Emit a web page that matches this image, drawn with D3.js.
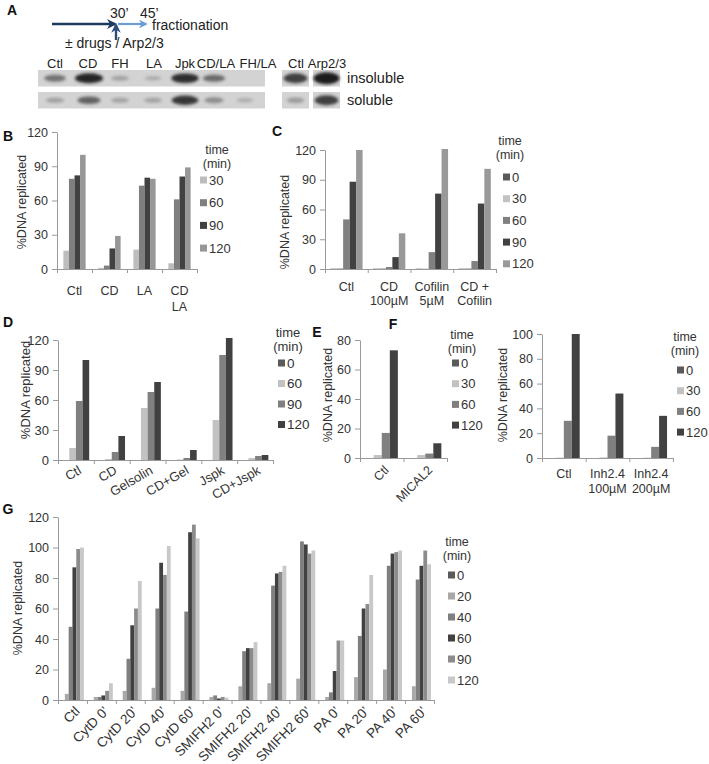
<!DOCTYPE html>
<html>
<head>
<meta charset="utf-8">
<script src="https://cdn.jsdelivr.net/npm/d3@7"></script>
<style>
  body { margin: 0; background: #fff; }
  text { font-family: "Liberation Sans", Arial, sans-serif; fill: #333; }
</style>
</head>
<body>
<div id="fig"></div>
<script>
// ---- panel A : blot lanes (band intensity 0..1) ----
const laneLabels = ["Ctl", "CD", "FH", "LA", "Jpk", "CD/LA", "FH/LA"];
const insolubleBands = [0.55, 1.0, 0.28, 0.22, 0.95, 0.6, 0.0];
const solubleBands = [0.3, 0.65, 0.28, 0.28, 0.9, 0.4, 0.22];
const arpLabels = ["Ctl", "Arp2/3"];
const arpInsoluble = [0.8, 1.0];
const arpSoluble = [0.3, 0.8];

// ---- panel B ----
const bCats = ["Ctl", "CD", "LA", "CD\nLA"];
const bTimes = ["30", "60", "90", "120"];
const bValues = [[16, 79, 82, 100], [1, 3, 18, 29], [17, 73, 80, 79], [5, 61, 81, 89]];

// ---- panel C ----
const cCats = ["Ctl", "CD\n100µM", "Cofilin\n5µM", "CD +\nCofilin"];
const cTimes = ["0", "30", "60", "90", "120"];
const cValues = [[0.3, 1, 50, 88, 120], [0.3, 1, 2, 12, 36], [0.3, 0.5, 17, 76, 121], [0.3, 1, 8, 66, 101]];

// ---- panel D ----
const dCats = ["Ctl", "CD", "Gelsolin", "CD+Gel", "Jspk", "CD+Jspk"];
const dTimes = ["0", "60", "90", "120"];
const dValues = [[0, 12, 59, 100], [0, 1, 8, 24], [0, 52, 68, 78], [0, 0.5, 2, 10], [0, 40, 105, 122], [0, 2, 4, 5]];

// ---- panel E ----
const eCats = ["Ctl", "MICAL2"];
const eTimes = ["0", "30", "60", "120"];
const eValues = [[0, 2, 17, 73], [0, 2, 3, 10]];

// ---- panel F ----
const fCats = ["Ctl", "Inh2.4\n100µM", "Inh2.4\n200µM"];
const fTimes = ["0", "30", "60", "120"];
const fValues = [[0, 0.3, 30, 100], [0, 0.5, 18, 52], [0, 0.3, 9, 34]];

// ---- panel G ----
const gCats = ["Ctl", "CytD 0’", "CytD 20’", "CytD 40’", "CytD 60’", "SMIFH2 0’", "SMIFH2 20’",
  "SMIFH2 40’", "SMIFH2 60’", "PA 0’", "PA 20’", "PA 40’", "PA 60’"];
const gTimes = ["0", "20", "40", "60", "90", "120"];
const gValues = [
  [0, 4, 48, 87, 99, 100],
  [0, 2, 2, 3, 6, 11],
  [0, 6, 27, 49, 60, 78],
  [0, 8, 60, 90, 82, 101],
  [0, 6, 58, 110, 115, 106],
  [0, 2, 3, 1, 2, 1.5],
  [0, 9, 32, 34, 34, 38],
  [0, 11, 75, 83, 84, 88],
  [0, 14, 104, 102, 96, 98],
  [0, 2, 5, 19, 39, 39],
  [0, 15, 42, 60, 63, 82],
  [0, 20, 88, 96, 97, 98],
  [0, 9, 79, 88, 98, 89]
];

const width = 709;
const height = 764;

const svg = d3.select("#fig").append("svg")
  .attr("width", width)
  .attr("height", height);

const defs = svg.append("defs");
defs.append("filter").attr("id", "blur")
  .attr("x", "-50%").attr("y", "-100%").attr("width", "200%").attr("height", "300%")
  .append("feGaussianBlur").attr("stdDeviation", 1.6);

function arrowHead(id, color) {
  defs.append("marker")
    .attr("id", id)
    .attr("viewBox", "0 0 10 10")
    .attr("refX", 8).attr("refY", 5)
    .attr("markerWidth", 4).attr("markerHeight", 4)
    .attr("orient", "auto")
    .append("path")
    .attr("d", "M0,0 L10,5 L0,10 L3,5 Z")
    .attr("fill", color);
}
arrowHead("headDark", "#1d3a60");
arrowHead("headLight", "#6c9ed6");
arrowHead("headUp", "#2b4d7e");

function panelLetter(t, x, y) {
  svg.append("text").attr("x", x).attr("y", y)
    .attr("dominant-baseline", "central").attr("text-anchor", "middle")
    .style("font-weight", "bold").style("font-size", "14px").style("fill", "#111")
    .text(t);
}

// ================= panel A =================
panelLetter("A", 12, 10);

svg.append("line").attr("x1", 52).attr("y1", 24).attr("x2", 115).attr("y2", 24)
  .attr("stroke", "#1d3a60").attr("stroke-width", 2.5).attr("marker-end", "url(#headDark)");
svg.append("line").attr("x1", 118).attr("y1", 24).attr("x2", 146).attr("y2", 24)
  .attr("stroke", "#6c9ed6").attr("stroke-width", 2.2).attr("marker-end", "url(#headLight)");
svg.append("line").attr("x1", 116).attr("y1", 40).attr("x2", 116).attr("y2", 25)
  .attr("stroke", "#2b4d7e").attr("stroke-width", 2.4).attr("marker-end", "url(#headUp)");

const aText = [
  { t: "30’", x: 110, y: 13 },
  { t: "45’", x: 140, y: 13 },
  { t: "fractionation", x: 152, y: 25 },
  { t: "± drugs / Arp2/3", x: 65, y: 43 }
];
svg.append("g").selectAll("text").data(aText).join("text")
  .attr("x", d => d.x).attr("y", d => d.y)
  .attr("dominant-baseline", "central")
  .style("font-size", "14px").style("fill", "#222")
  .text(d => d.t);

// lane centres of the main blot (lanes are not evenly spaced on the gel)
const laneX = d3.scaleOrdinal(laneLabels, [55, 88, 120, 154, 185, 216, 258]);
const laneBandX = d3.scaleOrdinal(laneLabels, [55, 89, 120, 153, 185, 214, 245]);

function blot(labels, rows, x0, x1, rowY, rowH) {
  const g = svg.append("g");
  g.selectAll("text.lane").data(labels).join("text")
    .attr("class", "lane")
    .attr("x", d => laneX(d)).attr("y", 63)
    .attr("text-anchor", "middle").attr("dominant-baseline", "central")
    .style("font-size", "13px").style("fill", "#222")
    .text(d => d);
  rows.forEach((vals, r) => {
    g.append("rect").attr("x", x0).attr("y", rowY[r]).attr("width", x1 - x0).attr("height", rowH)
      .attr("fill", "#d3d3d3");
    g.selectAll(null).data(vals).join("ellipse")
      .attr("cx", (d, i) => laneBandX(labels[i]))
      .attr("cy", rowY[r] + rowH / 2)
      .attr("rx", d => 7 + 7 * d)
      .attr("ry", d => 1.5 + 3.5 * d)
      .attr("fill", "#1a1a1a")
      .attr("opacity", d => Math.min(1, d * 0.95))
      .attr("filter", "url(#blur)");
  });
}
blot(laneLabels, [insolubleBands, solubleBands], 38, 265, [70, 92], 16.5);
// right-hand blot: two separate boxes
[0, 1].forEach(i => {
  const bx = [282, 313][i];
  const g = svg.append("g");
  g.append("text").attr("x", bx + 14).attr("y", 63)
    .attr("text-anchor", "middle").attr("dominant-baseline", "central")
    .style("font-size", "13px").style("fill", "#222").text(arpLabels[i]);
  [arpInsoluble[i], arpSoluble[i]].forEach((v, r) => {
    const ry = [70, 92][r];
    g.append("rect").attr("x", bx).attr("y", ry).attr("width", 27).attr("height", 16.5).attr("fill", "#d3d3d3");
    g.append("ellipse").attr("cx", bx + 13.5).attr("cy", ry + 8.25)
      .attr("rx", 7 + 6 * v).attr("ry", 1.5 + 4.5 * v)
      .attr("fill", "#1a1a1a").attr("opacity", v).attr("filter", "url(#blur)");
  });
});
svg.append("text").attr("x", 347).attr("y", 78).attr("dominant-baseline", "central")
  .style("font-size", "14.5px").style("fill", "#222").text("insoluble");
svg.append("text").attr("x", 347).attr("y", 100).attr("dominant-baseline", "central")
  .style("font-size", "14.5px").style("fill", "#222").text("soluble");

// ================= bar panels =================
function barPanel(cfg) {
  const g = svg.append("g");
  const fs = cfg.fontSize || 12.5;
  const x = d3.scaleBand().domain(cfg.cats).range([cfg.x0, cfg.x1]);
  const xi = d3.scaleBand().domain(cfg.times).range([0, x.bandwidth()])
    .paddingInner(0).paddingOuter(cfg.pad);
  const y = d3.scaleLinear().domain([0, cfg.max]).range([cfg.yBottom, cfg.yTop]);

  // bars
  g.append("g").selectAll("g").data(cfg.values).join("g")
    .attr("transform", (d, i) => `translate(${x(cfg.cats[i])},0)`)
    .selectAll("rect")
    .data(d => d.map((v, j) => ({ v, t: cfg.times[j] })))
    .join("rect")
    .attr("x", d => xi(d.t))
    .attr("width", xi.bandwidth())
    .attr("y", d => y(d.v))
    .attr("height", d => y(0) - y(d.v))
    .attr("fill", d => cfg.colors[d.t]);

  // y axis
  const ya = g.append("g")
    .attr("transform", `translate(${cfg.x0},0)`)
    .call(d3.axisLeft(y).tickValues(cfg.ticks).tickSize(5).tickSizeOuter(0).tickPadding(4));
  ya.select(".domain").attr("stroke", "#9a9a9a");
  ya.selectAll(".tick line").attr("stroke", "#9a9a9a");
  ya.selectAll(".tick text").style("font-size", fs + "px").style("fill", "#333")
    .style("font-family", "Liberation Sans, Arial, sans-serif");

  // x axis : ticks between categories
  const xb = d3.scaleLinear().domain([0, cfg.cats.length]).range([cfg.x0, cfg.x1]);
  const xa = g.append("g")
    .attr("transform", `translate(0,${cfg.yBottom})`)
    .call(d3.axisBottom(xb).tickValues(d3.range(cfg.cats.length + 1))
      .tickSize(4).tickSizeOuter(0).tickFormat(""));
  xa.select(".domain").attr("stroke", "#9a9a9a");
  xa.selectAll(".tick line").attr("stroke", "#9a9a9a");

  // category labels
  const lfs = cfg.labelSize || fs;
  const lab = g.append("g").selectAll("text").data(cfg.cats).join("text")
    .style("font-size", lfs + "px").style("fill", "#333");
  if (cfg.rotate) {
    lab.attr("text-anchor", "end")
      .attr("transform", d => `translate(${x(d) + x.bandwidth() / 2 + cfg.labDx},${cfg.labY}) rotate(${cfg.rotate})`)
      .attr("dominant-baseline", "central")
      .text(d => d);
  } else {
    lab.attr("text-anchor", "middle")
      .each(function (d) {
        const t = d3.select(this);
        d.split("\n").forEach((line, k) => {
          t.append("tspan")
            .attr("x", x(d) + x.bandwidth() / 2)
            .attr("y", cfg.labY + k * cfg.lineH)
            .attr("dominant-baseline", "central")
            .text(line);
        });
      });
  }

  // y title
  g.append("text")
    .attr("transform", `translate(${cfg.titleX},${cfg.titleY}) rotate(-90)`)
    .attr("text-anchor", "middle").attr("dominant-baseline", "central")
    .style("font-size", fs + "px").style("fill", "#333")
    .text("%DNA replicated");

  // legend
  const L = cfg.legend;
  g.append("text").attr("x", L.tx).attr("y", L.ty).attr("text-anchor", "middle")
    .attr("dominant-baseline", "central").style("font-size", fs + "px").text("time");
  g.append("text").attr("x", L.tx).attr("y", L.ty + 14).attr("text-anchor", "middle")
    .attr("dominant-baseline", "central").style("font-size", fs + "px").text("(min)");
  const item = g.append("g").selectAll("g").data(cfg.times).join("g")
    .attr("transform", (d, i) => `translate(${L.sx},${L.y0 + i * L.dy})`);
  item.append("rect").attr("x", 0).attr("y", -3.5).attr("width", 7).attr("height", 7)
    .attr("fill", d => cfg.colors[d]);
  item.append("text").attr("x", 9).attr("y", 0).attr("dominant-baseline", "central")
    .style("font-size", (fs + 0.5) + "px").text(d => d);
}

// B
panelLetter("B", 8, 136);
barPanel({
  cats: bCats, times: bTimes, values: bValues,
  colors: { "30": "#bdbdbd", "60": "#7f7f7f", "90": "#414141", "120": "#979797" },
  x0: 57, x1: 197, yTop: 132, yBottom: 269, max: 120, ticks: [0, 30, 60, 90, 120], pad: 1.15,
  labY: 291, lineH: 16, titleX: 22, titleY: 202,
  legend: { tx: 217, ty: 150, sx: 200, y0: 180, dy: 22.7 }
});

// C
panelLetter("C", 277, 131);
barPanel({
  cats: cCats, times: cTimes, values: cValues,
  colors: { "0": "#5a5a5a", "30": "#c2c2c2", "60": "#808080", "90": "#414141", "120": "#999999" },
  x0: 325, x1: 496, yTop: 150, yBottom: 269, max: 120, ticks: [0, 30, 60, 90, 120], pad: 0.8,
  labY: 287, lineH: 14, titleX: 285, titleY: 222,
  legend: { tx: 510, ty: 141, sx: 503, y0: 177, dy: 21.7 }
});

// D
panelLetter("D", 8, 322);
barPanel({
  cats: dCats, times: dTimes, values: dValues, fontSize: 13,
  colors: { "0": "#5a5a5a", "60": "#c2c2c2", "90": "#808080", "120": "#414141" },
  x0: 58, x1: 273, yTop: 340, yBottom: 460, max: 120, ticks: [0, 30, 60, 90, 120], pad: 0.7,
  rotate: -30, labDx: 4, labY: 469, titleX: 25, titleY: 390,
  legend: { tx: 288, ty: 332, sx: 278, y0: 363, dy: 20.5 }
});

// E
panelLetter("E", 317, 332);
barPanel({
  cats: eCats, times: eTimes, values: eValues,
  colors: { "0": "#5a5a5a", "30": "#c2c2c2", "60": "#808080", "120": "#414141" },
  x0: 360, x1: 447, yTop: 340, yBottom: 458, max: 80, ticks: [0, 20, 40, 60, 80], pad: 0.7,
  rotate: -45, labDx: 5, labY: 468, titleX: 328, titleY: 395,
  legend: { tx: 462, ty: 335, sx: 452, y0: 363, dy: 20.7 }
});

// F
panelLetter("F", 393, 324);
barPanel({
  cats: fCats, times: fTimes, values: fValues,
  colors: { "0": "#5a5a5a", "30": "#c2c2c2", "60": "#808080", "120": "#414141" },
  x0: 542, x1: 673, yTop: 334, yBottom: 458, max: 100, ticks: [0, 20, 40, 60, 80, 100], pad: 0.75,
  labY: 474, lineH: 15, titleX: 503, titleY: 395,
  legend: { tx: 685, ty: 337, sx: 677, y0: 370, dy: 20.7 }
});

// G
panelLetter("G", 8, 509);
barPanel({
  cats: gCats, times: gTimes, values: gValues, labelSize: 13.5,
  colors: { "0": "#5a5a5a", "20": "#a8a8a8", "40": "#7f7f7f", "60": "#414141", "90": "#8c8c8c", "120": "#c8c8c8" },
  x0: 58, x1: 434, yTop: 517, yBottom: 700, max: 120, ticks: [0, 20, 40, 60, 80, 100, 120], pad: 0.8,
  rotate: -45, labDx: 5, labY: 709, titleX: 18, titleY: 608,
  legend: { tx: 457, ty: 542, sx: 448, y0: 575, dy: 21 }
});
</script>
</body>
</html>
